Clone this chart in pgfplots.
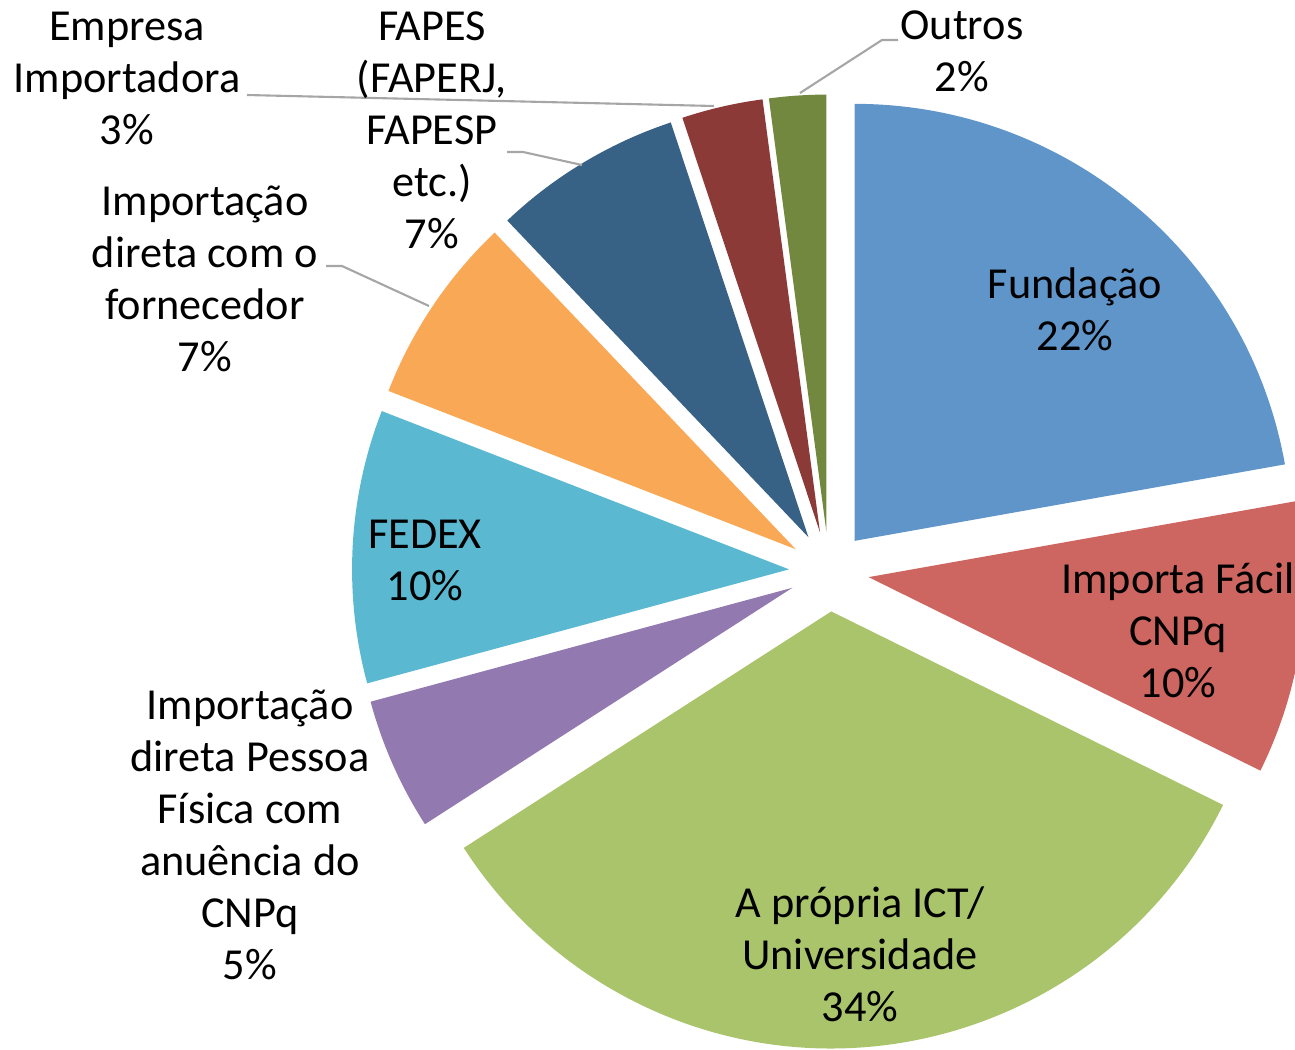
\documentclass[border=0pt]{standalone}
\usepackage{pgfplots}
\pgfplotsset{compat=1.18}
\usepackage{pgfplotstable}
\usepackage{fontspec}
\setmainfont{Carlito}
\definecolor{slice0}{HTML}{5F95C9}
\definecolor{slice1}{HTML}{CD6660}
\definecolor{slice2}{HTML}{A9C46B}
\definecolor{slice3}{HTML}{9279AF}
\definecolor{slice4}{HTML}{5BB8D1}
\definecolor{slice5}{HTML}{F9A856}
\definecolor{slice6}{HTML}{386186}
\definecolor{slice7}{HTML}{8B3A38}
\definecolor{slice8}{HTML}{71883E}
\definecolor{leader}{HTML}{A6A6A6}

% shares (percent); labels show them rounded
\pgfplotstableread{
idx pct
0 22.2
1 10.1
2 33.6
3 4.9
4 10.1
5 7.0
6 7.0
7 3.0
8 2.1
}\piedata

\tikzset{lbl/.style={font=\fontsize{12.6}{14.8}\selectfont,align=center,inner sep=0pt}}

\begin{document}
\begin{tikzpicture}
\begin{axis}[width=12.95cm,height=10.5cm,scale only axis,
  xmin=0,xmax=1295,ymin=0,ymax=1050,y dir=reverse,
  hide axis,clip=true]
\gdef\cum{0}
\pgfplotsforeachungrouped \i in {0,...,8}{%
  \pgfplotstablegetelem{\i}{pct}\of\piedata
  \pgfmathsetmacro\aone{90-3.6*\cum}
  \pgfmathsetmacro\atwo{90-3.6*(\cum+\pgfplotsretval)}
  \pgfmathsetmacro\amid{(\aone+\atwo)/2}
  \pgfmathsetmacro\tx{829+40*cos(\amid)}
  \pgfmathsetmacro\ty{571.5-40*sin(\amid)}
  \pgfmathsetmacro\newcum{\cum+\pgfplotsretval}
  \xdef\cum{\newcum}
  \edef\temp{\noexpand\fill[slice\i] (axis cs:\tx,\ty) -- ++(\aone:4.37cm) arc[start angle=\aone, end angle=\atwo, radius=4.37cm] -- cycle;}
  \temp
}
% leader lines
\draw[leader, line width=0.6pt] (axis cs:898,40) -- (axis cs:882,40) -- (axis cs:800,93);
\draw[leader, line width=0.6pt] (axis cs:247,95) -- (axis cs:714,106);
\draw[leader, line width=0.6pt] (axis cs:507,152) -- (axis cs:523,152) -- (axis cs:582,165);
\draw[leader, line width=0.6pt] (axis cs:326,266) -- (axis cs:342,266) -- (axis cs:429,306);
% labels
\node[lbl] at (axis cs:1075,309) {Fundação\\22\%};
\node[lbl] at (axis cs:1178,630) {Importa Fácil\\CNPq\\10\%};
\node[lbl] at (axis cs:860,954) {A própria ICT/\\Universidade\\34\%};
\node[lbl] at (axis cs:250,834.5) {Importação\\direta Pessoa\\Física com\\anuência do\\CNPq\\5\%};
\node[lbl] at (axis cs:425,560) {FEDEX\\10\%};
\node[lbl] at (axis cs:205,279) {Importação\\direta com o\\fornecedor\\7\%};
\node[lbl] at (axis cs:432,130) {FAPES\\(FAPERJ,\\FAPESP\\etc.)\\7\%};
\node[lbl] at (axis cs:127,78) {Empresa\\Importadora\\3\%};
\node[lbl] at (axis cs:962,51) {Outros\\2\%};
\end{axis}
\pgfresetboundingbox
\path (0,0) rectangle (12.95cm,10.5cm);
\end{tikzpicture}
\end{document}
